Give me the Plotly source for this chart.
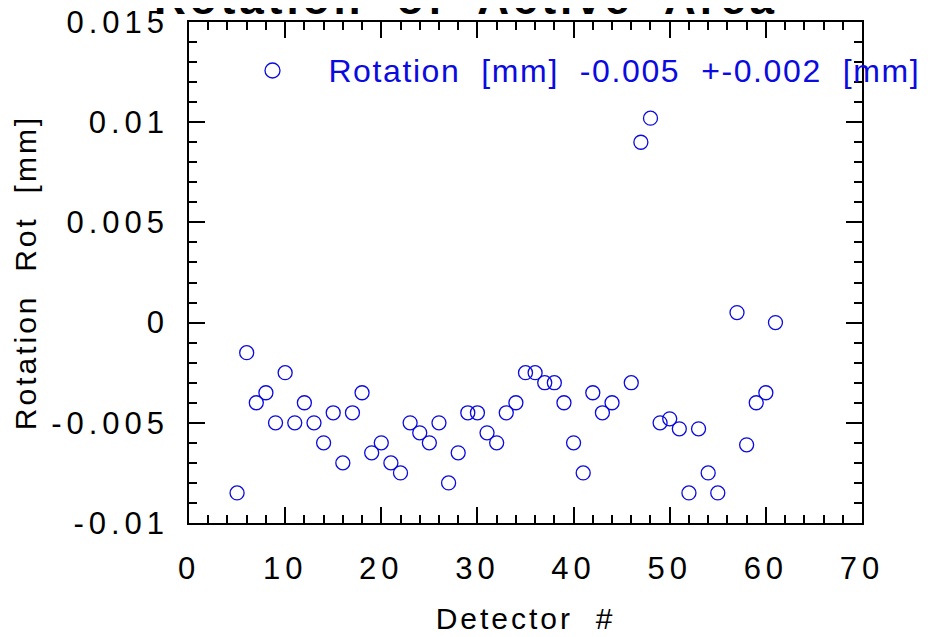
import plotly.graph_objects as go

# ---- data ----
detector = [5, 6, 7, 8, 9, 10, 11, 12, 13, 14, 15, 16, 17, 18, 19, 20, 21, 22, 23, 24,
            25, 26, 27, 28, 29, 30, 31, 32, 33, 34, 35, 36, 37, 38, 39, 40, 41, 42, 43, 44,
            46, 47, 48, 49, 50, 51, 52, 53, 54, 55, 57, 58, 59, 60, 61]
rotation = [-0.0085, -0.0015, -0.004, -0.0035, -0.005, -0.0025, -0.005, -0.004, -0.005, -0.006,
            -0.0045, -0.007, -0.0045, -0.0035, -0.0065, -0.006, -0.007, -0.0075, -0.005, -0.0055,
            -0.006, -0.005, -0.008, -0.0065, -0.0045, -0.0045, -0.0055, -0.006, -0.0045, -0.004,
            -0.0025, -0.0025, -0.003, -0.003, -0.004, -0.006, -0.0075, -0.0035, -0.0045, -0.004,
            -0.003, 0.009, 0.0102, -0.005, -0.0048, -0.0053, -0.0085, -0.0053, -0.0075, -0.0085,
            0.0005, -0.0061, -0.004, -0.0035, 0.0]

x_tickvals = [0, 10, 20, 30, 40, 50, 60, 70]
x_ticktext = ["0", "10", "20", "30", "40", "50", "60", "70"]
y_tickvals = [-0.01, -0.005, 0, 0.005, 0.01, 0.015]
y_ticktext = ["-0.01", "-0.005", "0", "0.005", "0.01", "0.015"]

title_text = "Rotation  of  Active  Area"
legend_text = "Rotation  [mm]  -0.005  +-0.002  [mm]"
x_title = "Detector  #"
y_title = "Rotation  Rot  [mm]"

W, H = 930, 637
OFF = 8  # page body margin
L, R, T, B = 189 - OFF, 930 - (862 - OFF), 22 - OFF, 637 - (523 - OFF)
plot_w = W - L - R
plot_h = H - T - B

def px_x(p):
    return (p - OFF - L) / plot_w

def px_y(p):
    return (H - B - (p - OFF)) / plot_h

BLUE = "rgb(10,10,225)"
FONT = "Liberation Sans, Arial, sans-serif"

fig = go.Figure()
fig.add_trace(go.Scatter(
    x=detector, y=rotation, mode="markers",
    marker=dict(symbol="circle-open", size=14, color=BLUE, line=dict(width=1.3, color=BLUE)),
    showlegend=False, cliponaxis=False,
))

axis_common = dict(
    showline=True, linecolor="black", linewidth=1.5, mirror="ticks",
    ticks="inside", ticklen=16, tickwidth=1.5, tickcolor="black",
    showgrid=False, zeroline=False, ticklabeloverflow="allow",
    tickfont=dict(family=FONT, size=31, color="black"),
)

fig.update_layout(
    width=W, height=H,
    margin=dict(l=L, r=R, t=T, b=B, autoexpand=False),
    paper_bgcolor="white", plot_bgcolor="white",
    font=dict(family=FONT, color="black"),
    xaxis=dict(
        range=[0, 70], tickmode="array", tickvals=x_tickvals, ticktext=x_ticktext,
        minor=dict(dtick=2, ticks="inside", ticklen=8, tickwidth=1.5, tickcolor="black", showgrid=False),
        ticklabelstandoff=17,
        title=dict(text=x_title, font=dict(family=FONT, size=30, color="black"), standoff=23),
        automargin=False,
        **axis_common,
    ),
    yaxis=dict(
        range=[-0.01, 0.015], tickmode="array", tickvals=y_tickvals, ticktext=y_ticktext,
        minor=dict(dtick=0.001, ticks="inside", ticklen=8, tickwidth=1.5, tickcolor="black", showgrid=False),
        ticklabelstandoff=12,
        title=dict(text=y_title, font=dict(family=FONT, size=30, color="black"), standoff=36),
        automargin=False,
        **axis_common,
    ),
    annotations=[
        dict(text="<b>" + title_text + "</b>", xref="paper", yref="paper",
             x=px_x(466), y=px_y(-1), xanchor="center", yanchor="middle",
             showarrow=False, font=dict(family=FONT, size=44, color="black")),
        dict(text=legend_text, xref="paper", yref="paper",
             x=px_x(356), y=px_y(71.5), xanchor="left", yanchor="middle",
             showarrow=False, font=dict(family=FONT, size=32, color=BLUE)),
    ],
    shapes=[
        dict(type="circle", xref="paper", yref="paper", xsizemode="pixel", ysizemode="pixel",
             xanchor=px_x(272.5), yanchor=px_y(70.5), x0=-7.5, x1=7.5, y0=-7.5, y1=7.5,
             line=dict(color=BLUE, width=1.3)),
    ],
)

css = ("<style>"
       ".xtick text,.ytick text{letter-spacing:5px}"
       ".g-xtitle text,.g-ytitle text{letter-spacing:3px}"
       ".annotation[data-index='0'] text{letter-spacing:4px}"
       ".annotation[data-index='1'] text{letter-spacing:1.6px}"
       "</style>")
post = "document.head.insertAdjacentHTML('beforeend', \"" + css + "\");"

fig.write_html("out.html", post_script=post)
